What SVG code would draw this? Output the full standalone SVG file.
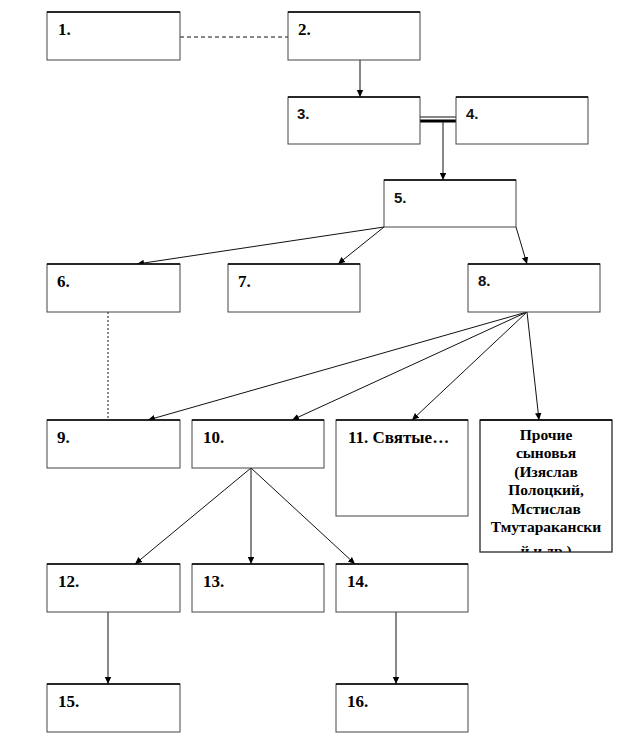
<svg xmlns="http://www.w3.org/2000/svg" width="624" height="756" viewBox="0 0 624 756">
<style>
.box rect{fill:#fff;stroke:#444;stroke-width:1}
.box .top{stroke:#000;stroke-width:1.5;fill:none}
.lbl{font-family:"Liberation Serif","DejaVu Serif","Times New Roman",serif;font-weight:bold;font-size:17px;fill:#000}
.sans{font-family:"Liberation Sans","DejaVu Sans",Arial,sans-serif;font-weight:bold;font-size:15px;fill:#111}
.note{font-family:"Liberation Serif","DejaVu Serif","Times New Roman",serif;font-weight:bold;font-size:15.5px;fill:#000;text-anchor:middle}
.c{stroke:#111;stroke-width:1;fill:none}
.arr{marker-end:url(#ah)}
.dash{stroke-dasharray:4 3}
.dot{stroke-dasharray:2 2}
</style>
<defs>
<marker id="ah" markerWidth="8" markerHeight="8" refX="7" refY="4" orient="auto" markerUnits="userSpaceOnUse">
<path d="M0,0.8 L7,4 L0,7.2 z" fill="#000"/>
</marker>
<clipPath id="clipP"><rect x="480" y="420" width="132" height="132"/></clipPath>
</defs>
<rect width="624" height="756" fill="#fff"/>

<g id="connectors">
<line class="c dash" x1="180" y1="37" x2="288" y2="37"/>
<line class="c arr" x1="360" y1="60" x2="360" y2="97"/>
<line class="c" x1="420" y1="117" x2="456" y2="117"/>
<line x1="420" y1="121" x2="456" y2="121" stroke="#000" stroke-width="3"/>
<line class="c arr" x1="443" y1="122" x2="443" y2="180"/>
<line class="c arr" x1="384" y1="227" x2="137" y2="264"/>
<line class="c arr" x1="384" y1="227" x2="338" y2="264"/>
<line class="c arr" x1="516" y1="227" x2="527" y2="264"/>
<line class="c dot" x1="108" y1="312" x2="108" y2="420"/>
<line class="c arr" x1="527" y1="312" x2="148" y2="420"/>
<line class="c arr" x1="527" y1="312" x2="292" y2="420"/>
<line class="c arr" x1="527" y1="312" x2="412" y2="420"/>
<line class="c arr" x1="527" y1="312" x2="539" y2="420"/>
<line class="c arr" x1="251" y1="468" x2="135" y2="564"/>
<line class="c arr" x1="251" y1="468" x2="251" y2="564"/>
<line class="c arr" x1="251" y1="468" x2="355" y2="564"/>
<line class="c arr" x1="108" y1="612" x2="108" y2="684"/>
<line class="c arr" x1="396" y1="612" x2="396" y2="684"/>
</g>

<g id="n1" class="box"><rect x="47" y="12" width="133" height="48"/><line class="top" x1="47" y1="12" x2="180" y2="12"/><text class="lbl" x="58" y="35">1.</text></g>
<g id="n2" class="box"><rect x="288" y="12" width="132" height="48"/><line class="top" x1="288" y1="12" x2="420" y2="12"/><text class="lbl" x="298" y="35">2.</text></g>
<g id="n3" class="box"><rect x="288" y="97" width="132" height="47"/><line class="top" x1="288" y1="97" x2="420" y2="97"/><text class="sans" x="297" y="119">3.</text></g>
<g id="n4" class="box"><rect x="456" y="97" width="132" height="47"/><line class="top" x1="456" y1="97" x2="588" y2="97"/><text class="sans" x="466" y="119">4.</text></g>
<g id="n5" class="box"><rect x="384" y="180" width="132" height="47"/><line class="top" x1="384" y1="180" x2="516" y2="180"/><text class="sans" x="394" y="203">5.</text></g>
<g id="n6" class="box"><rect x="47" y="264" width="133" height="48"/><line class="top" x1="47" y1="264" x2="180" y2="264"/><text class="lbl" x="57" y="287">6.</text></g>
<g id="n7" class="box"><rect x="228" y="264" width="132" height="48"/><line class="top" x1="228" y1="264" x2="360" y2="264"/><text class="lbl" x="238" y="287">7.</text></g>
<g id="n8" class="box"><rect x="468" y="264" width="132" height="48"/><line class="top" x1="468" y1="264" x2="600" y2="264"/><text class="sans" x="478" y="286">8.</text></g>
<g id="n9" class="box"><rect x="47" y="420" width="133" height="48"/><line class="top" x1="47" y1="420" x2="180" y2="420"/><text class="lbl" x="57" y="443">9.</text></g>
<g id="n10" class="box"><rect x="192" y="420" width="132" height="48"/><line class="top" x1="192" y1="420" x2="324" y2="420"/><text class="lbl" x="203" y="443">10.</text></g>
<g id="n11" class="box"><rect x="336" y="420" width="132" height="96"/><line class="top" x1="336" y1="420" x2="468" y2="420"/><text class="lbl" x="348" y="443">11. Святые…</text></g>
<g id="n_other" class="box"><rect x="480" y="420" width="132" height="132"/>
<g clip-path="url(#clipP)">
<text class="note" x="546" y="440">Прочие</text>
<text class="note" x="546" y="458">сыновья</text>
<text class="note" x="546" y="477">(Изяслав</text>
<text class="note" x="546" y="495">Полоцкий,</text>
<text class="note" x="546" y="514">Мстислав</text>
<text class="note" x="546" y="532">Тмутаракански</text>
<text class="note" x="546" y="556">й и др.)</text>
</g>
<rect x="480" y="420" width="132" height="132" style="fill:none"/><line class="top" x1="480" y1="420" x2="612" y2="420"/></g>
<g id="n12" class="box"><rect x="47" y="564" width="133" height="48"/><line class="top" x1="47" y1="564" x2="180" y2="564"/><text class="lbl" x="58" y="587">12.</text></g>
<g id="n13" class="box"><rect x="192" y="564" width="132" height="48"/><line class="top" x1="192" y1="564" x2="324" y2="564"/><text class="lbl" x="203" y="587">13.</text></g>
<g id="n14" class="box"><rect x="336" y="564" width="132" height="48"/><line class="top" x1="336" y1="564" x2="468" y2="564"/><text class="lbl" x="347" y="587">14.</text></g>
<g id="n15" class="box"><rect x="47" y="684" width="133" height="48"/><line class="top" x1="47" y1="684" x2="180" y2="684"/><text class="lbl" x="58" y="707">15.</text></g>
<g id="n16" class="box"><rect x="336" y="684" width="132" height="48"/><line class="top" x1="336" y1="684" x2="468" y2="684"/><text class="lbl" x="347" y="707">16.</text></g>
</svg>
